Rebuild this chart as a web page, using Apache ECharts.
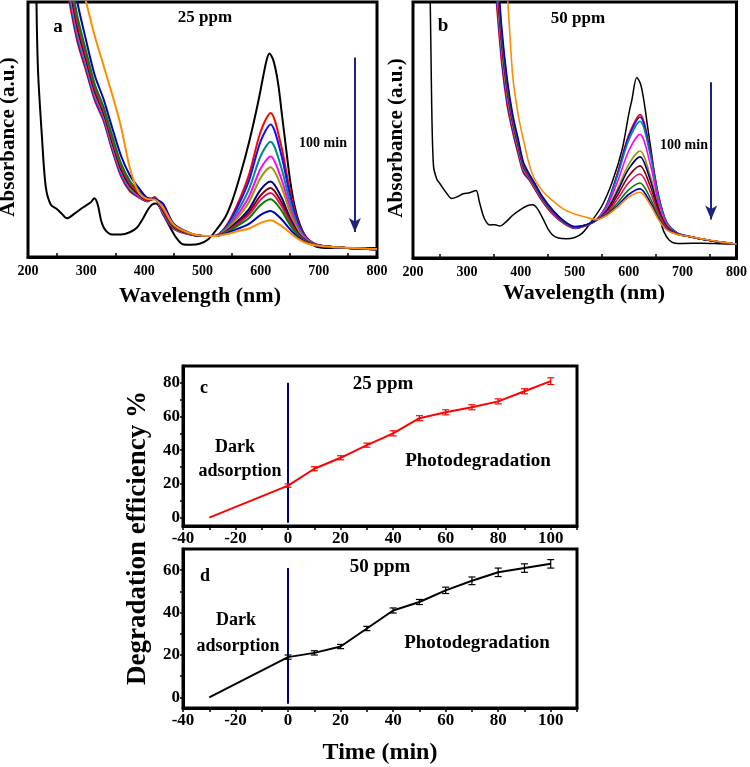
<!DOCTYPE html>
<html><head><meta charset="utf-8">
<script src="https://cdn.jsdelivr.net/npm/echarts/dist/echarts.min.js"></script>
<style>html,body{margin:0;padding:0;background:#fff}#c{width:750px;height:767px}</style>
</head><body><div id="c"></div>
<script>
// ---------- Panel a (25 ppm) spectra ----------
const wlA = [270, 285, 300, 315, 330, 345, 360, 375, 390, 405, 418, 432, 450, 475, 500, 520, 540, 560, 580, 600, 617, 635, 650, 665, 680, 700, 750, 800];
const a_red     = [1.016, .844, .729, .613, .534, .417, .316, .258, .234, .218, .235, .167, .111, .090, .082, .082, .119, .206, .323, .492, .565, .439, .264, .133, .074, .046, .035, .030];
const a_blue    = [1.030, .855, .738, .620, .540, .424, .322, .263, .237, .219, .232, .170, .113, .091, .082, .082, .116, .195, .300, .454, .520, .405, .246, .126, .072, .046, .035, .030];
const a_teal    = [1.044, .866, .746, .627, .546, .430, .327, .267, .239, .220, .231, .173, .114, .091, .082, .082, .111, .178, .266, .396, .452, .354, .219, .116, .069, .045, .035, .030];
const a_magenta = [1.058, .877, .755, .634, .552, .436, .333, .272, .242, .221, .230, .176, .116, .092, .082, .082, .107, .164, .237, .347, .394, .310, .196, .107, .066, .045, .035, .030];
const a_olive   = [1.072, .888, .763, .641, .558, .442, .339, .276, .245, .222, .229, .179, .117, .092, .082, .082, .104, .153, .216, .311, .352, .279, .179, .101, .064, .045, .035, .030];
const a_navy    = [1.086, .899, .772, .648, .564, .449, .344, .280, .247, .223, .228, .182, .119, .093, .082, .082, .100, .139, .188, .264, .296, .237, .156, .092, .061, .045, .035, .030];
const a_wine    = [1.100, .910, .780, .655, .570, .455, .350, .285, .250, .224, .228, .185, .120, .093, .082, .082, .098, .133, .176, .242, .271, .218, .146, .089, .060, .045, .035, .030];
const a_crimson = [1.114, .921, .789, .662, .576, .461, .356, .290, .253, .225, .228, .188, .122, .094, .082, .082, .097, .128, .166, .225, .251, .203, .138, .086, .059, .045, .035, .030];
const a_green   = [1.142, .943, .806, .676, .588, .474, .367, .299, .258, .227, .228, .194, .125, .095, .082, .082, .095, .122, .153, .204, .226, .185, .128, .082, .057, .044, .035, .030];
const a_blue2   = [1.210, .998, .848, .711, .618, .505, .396, .321, .272, .232, .228, .209, .132, .097, .082, .082, .092, .110, .130, .165, .180, .150, .110, .075, .055, .044, .035, .030];
const a_orange  = [1.350, 1.150, 1.000, .865, .750, .635, .510, .350, .255, .228, .225, .195, .128, .096, .083, .082, .089, .101, .112, .134, .144, .123, .096, .070, .053, .044, .036, .031];
const a_blackWl  = [214, 217, 224, 230.5, 239, 250, 258, 267, 280, 295, 308, 314, 320, 326, 333, 345, 360, 375, 387, 397, 406, 413, 420, 428, 437, 446, 455, 466, 480, 495, 510, 525, 540, 552, 566, 581, 595, 604, 610, 615, 622, 630, 637, 644, 650, 656, 664, 673, 684, 696, 720, 760, 800];
const a_blackAbs = [1.10, .743, .470, .276, .206, .187, .170, .152, .170, .195, .215, .230, .205, .140, .105, .088, .088, .097, .115, .148, .185, .205, .210, .190, .148, .110, .075, .050, .048, .052, .070, .110, .160, .226, .330, .459, .600, .704, .770, .798, .770, .681, .550, .420, .310, .226, .150, .097, .060, .040, .035, .035, .035];

// ---------- Panel b (50 ppm) spectra ----------
const wlB = [355, 365, 375, 385, 395, 405, 415, 425, 440, 460, 480, 500, 520, 540, 560, 580, 600, 621, 640, 655, 670, 690, 710, 740, 770, 800];
const b_red     = [.992, .750, .590, .490, .405, .331, .306, .272, .221, .169, .134, .115, .126, .148, .212, .337, .480, .560, .421, .248, .142, .098, .085, .072, .062, .054];
const b_blue    = [1.019, .770, .605, .500, .414, .337, .310, .275, .224, .171, .136, .117, .127, .148, .211, .333, .473, .551, .414, .245, .141, .098, .085, .072, .062, .054];
const b_teal    = [1.046, .790, .620, .510, .423, .343, .313, .278, .227, .173, .137, .118, .127, .148, .208, .325, .459, .534, .402, .239, .139, .097, .085, .072, .062, .054];
const b_magenta = [1.060, .800, .628, .515, .427, .346, .315, .280, .228, .175, .138, .119, .127, .148, .201, .302, .418, .483, .367, .223, .134, .096, .085, .072, .062, .054];
const b_olive   = [1.073, .810, .635, .520, .431, .349, .317, .282, .229, .176, .139, .119, .128, .148, .191, .273, .366, .418, .321, .202, .127, .095, .085, .072, .062, .054];
const b_navy    = [1.100, .830, .650, .530, .440, .355, .320, .285, .232, .178, .140, .120, .128, .148, .188, .263, .348, .395, .305, .195, .125, .095, .085, .072, .062, .054];
const b_wine    = [1.114, .840, .658, .535, .444, .358, .322, .287, .233, .179, .141, .120, .128, .148, .182, .247, .320, .360, .281, .184, .122, .094, .085, .072, .062, .054];
const b_crimson = [1.127, .850, .665, .540, .449, .361, .324, .288, .235, .180, .142, .121, .128, .148, .177, .232, .294, .328, .258, .174, .118, .094, .085, .072, .062, .054];
const b_green   = [1.154, .870, .680, .550, .457, .367, .327, .292, .237, .183, .143, .122, .129, .148, .172, .217, .266, .293, .234, .162, .115, .093, .085, .072, .062, .054];
const b_blue2   = [1.181, .890, .695, .560, .466, .373, .331, .295, .240, .185, .145, .123, .129, .148, .169, .206, .248, .270, .218, .155, .113, .093, .085, .072, .062, .054];
const b_orange  = [1.400, 1.200, 1.020, .710, .560, .460, .370, .310, .262, .222, .190, .172, .160, .150, .167, .200, .238, .257, .208, .151, .111, .092, .085, .073, .063, .055];
const b_blackWl  = [230, 232, 234.5, 238, 244, 250, 260, 272, 283, 293, 305, 317, 323, 330, 336, 342, 352, 361, 372, 385, 400, 413, 422, 430, 441, 450, 459, 470, 484, 500, 514, 530, 551, 570, 588, 600, 606, 615, 622, 628, 636, 643, 650, 655, 660, 665, 675, 686, 700, 735, 770, 797];
const b_blackAbs = [1.10, 1.00, .620, .360, .309, .290, .260, .232, .240, .251, .255, .264, .220, .167, .140, .129, .130, .125, .140, .167, .190, .205, .208, .195, .154, .115, .090, .078, .075, .080, .097, .140, .206, .300, .425, .560, .618, .705, .680, .618, .500, .400, .280, .206, .140, .104, .070, .058, .057, .058, .056, .054];

const curveNames  = ['red', 'blue', 'teal', 'magenta', 'olive', 'navy', 'wine', 'crimson', 'green', 'blue2', 'orange'];
const curveColors = ['#ff0000', '#1010ff', '#008b8b', '#ff00ff', '#9a9a00', '#000080', '#800000', '#e0115f', '#008000', '#0000c0', '#ff8c00'];
const curvesA = [a_red, a_blue, a_teal, a_magenta, a_olive, a_navy, a_wine, a_crimson, a_green, a_blue2, a_orange];
const curvesB = [b_red, b_blue, b_teal, b_magenta, b_olive, b_navy, b_wine, b_crimson, b_green, b_blue2, b_orange];

// ---------- Panels c, d : degradation efficiency ----------
const timeMin = [-30, 0, 10, 20, 30, 40, 50, 60, 70, 80, 90, 100];
const eff25 = [0, 19, 29, 35.5, 43, 50, 59, 62.5, 65.5, 69, 75, 81];
const err25 = [0, 1, 1.2, 1.2, 1.2, 1.5, 1.5, 1.5, 1.5, 1.5, 1.5, 2];
const eff50 = [0, 19, 21, 24, 32.5, 41, 45, 50.5, 55, 59, 61, 63];
const err50 = [0, 1, 1, 1, 1, 1.2, 1.2, 1.5, 1.8, 2, 2, 2];

const xTicksAB = [200, 300, 400, 500, 600, 700, 800];
const yLabelsC = [0, 20, 40, 60, 80];
const yLabelsD = [0, 20, 40, 60];

// ---------- build chart ----------
const FONT = 'Liberation Serif';
const chart = echarts.init(document.getElementById('c'), null, {renderer: 'canvas'});

const pairs = (xs, ys) => xs.map((x, i) => [x, ys[i]]);

function specXAxis(gi) {
  return {
    type: 'value', gridIndex: gi, min: 200, max: 800, interval: 100,
    axisLine: {show: true, onZero: false, lineStyle: {color: '#000', width: 3}},
    axisTick: {show: false, inside: true},
    minorTick: {show: true, splitNumber: 2, length: 4, lineStyle: {color: '#000', width: 1.5}},
    splitLine: {show: false},
    axisLabel: {color: '#000', fontFamily: FONT, fontWeight: 'bold', fontSize: 14, margin: 7,
      customValues: xTicksAB}
  };
}
function specYAxis(gi) {
  return {type: 'value', gridIndex: gi, min: 0, max: 1,
    axisLine: {show: false}, axisTick: {show: false}, axisLabel: {show: false}, splitLine: {show: false}};
}
function timeXAxis(gi) {
  return {
    type: 'value', gridIndex: gi, min: -40, max: 110, interval: 20,
    axisLine: {show: true, onZero: false, lineStyle: {color: '#000', width: 3}},
    axisTick: {show: true, length: 4, lineStyle: {color: '#000', width: 1.5}},
    minorTick: {show: true, splitNumber: 2, length: 4, lineStyle: {color: '#000', width: 1.5}},
    splitLine: {show: false},
    axisLabel: {color: '#000', fontFamily: FONT, fontWeight: 'bold', fontSize: 17, margin: 4, showMaxLabel: false}
  };
}
function effYAxis(gi, min, max, labels, ticks) {
  return {
    type: 'value', gridIndex: gi, min: min, max: max,
    axisLine: {show: true, onZero: false, lineStyle: {color: '#000', width: 3}},
    axisTick: {show: true, length: 3, customValues: ticks, lineStyle: {color: '#000', width: 1.5}},
    splitLine: {show: false},
    axisLabel: {color: '#000', fontFamily: FONT, fontWeight: 'bold', fontSize: 17, margin: 3, customValues: labels}
  };
}

const series = [];
// panel a
series.push({type: 'line', xAxisIndex: 0, yAxisIndex: 0, data: pairs(a_blackWl, a_blackAbs), showSymbol: false,
  smooth: 0.3, lineStyle: {color: '#000', width: 2}, itemStyle: {color: '#000'}, z: 3,
  markLine: {silent: true, symbol: ['none', 'arrow'], symbolSize: [9, 14], label: {show: false},
    lineStyle: {color: '#1a237e', width: 2, type: 'solid'},
    data: [[{coord: [762, 0.782]}, {coord: [762, 0.098]}]]}});
curvesA.forEach((c, i) => series.push({type: 'line', name: 'a-' + curveNames[i], xAxisIndex: 0, yAxisIndex: 0,
  data: pairs(wlA, c), showSymbol: false, smooth: 0.3, lineStyle: {color: curveColors[i], width: 2}, z: 4 + i}));
// panel b
series.push({type: 'line', xAxisIndex: 1, yAxisIndex: 1, data: pairs(b_blackWl, b_blackAbs), showSymbol: false,
  smooth: 0.3, lineStyle: {color: '#000', width: 1.5}, z: 3,
  markLine: {silent: true, symbol: ['none', 'arrow'], symbolSize: [9, 14], label: {show: false},
    lineStyle: {color: '#1a237e', width: 2, type: 'solid'},
    data: [[{coord: [753, 0.687]}, {coord: [753, 0.150]}]]}});
curvesB.forEach((c, i) => series.push({type: 'line', name: 'b-' + curveNames[i], xAxisIndex: 1, yAxisIndex: 1,
  data: pairs(wlB, c), showSymbol: false, smooth: 0.3, lineStyle: {color: curveColors[i], width: 1.6}, z: 4 + i}));

function errSeries(xi, eff, err, color) {
  return {type: 'custom', xAxisIndex: xi, yAxisIndex: xi, z: 20,
    data: timeMin.map((t, i) => [t, eff[i], err[i]]).filter(d => d[2] > 0),
    renderItem: function (params, api) {
      const x = api.value(0), y = api.value(1), e = api.value(2);
      const top = api.coord([x, y + e]), bot = api.coord([x, y - e]);
      const w = 3.5, st = {stroke: color, lineWidth: 1.2};
      return {type: 'group', children: [
        {type: 'line', shape: {x1: top[0], y1: top[1], x2: bot[0], y2: bot[1]}, style: st},
        {type: 'line', shape: {x1: top[0] - w, y1: top[1], x2: top[0] + w, y2: top[1]}, style: st},
        {type: 'line', shape: {x1: bot[0] - w, y1: bot[1], x2: bot[0] + w, y2: bot[1]}, style: st}]};
    }};
}
// panel c
series.push({type: 'line', xAxisIndex: 2, yAxisIndex: 2, data: pairs(timeMin, eff25), showSymbol: false,
  lineStyle: {color: '#ff0000', width: 2}, z: 10,
  markLine: {silent: true, symbol: 'none', label: {show: false}, lineStyle: {color: '#000080', width: 2, type: 'solid'},
    data: [[{coord: [0, 80]}, {coord: [0, -3]}]]}});
series.push(errSeries(2, eff25, err25, '#ff0000'));
// panel d
series.push({type: 'line', xAxisIndex: 3, yAxisIndex: 3, data: pairs(timeMin, eff50), showSymbol: false,
  lineStyle: {color: '#000', width: 2}, z: 10,
  markLine: {silent: true, symbol: 'none', label: {show: false}, lineStyle: {color: '#000080', width: 2, type: 'solid'},
    data: [[{coord: [0, 61]}, {coord: [0, -3]}]]}});
series.push(errSeries(3, eff50, err50, '#000'));

function txt(x, y, s, size, extra) {
  return Object.assign({type: 'text', x: x, y: y, z: 50, silent: true,
    style: {text: s, fill: '#000', font: 'bold ' + size + 'px "' + FONT + '"', textAlign: 'center', textVerticalAlign: 'middle'}}, extra || {});
}

const option = {
  animation: false,
  backgroundColor: '#fff',
  grid: [
    {left: 28, top: 2, width: 349, height: 255, show: true, borderColor: '#000', borderWidth: 3, backgroundColor: 'transparent'},
    {left: 413, top: 2, width: 326, height: 256, show: true, borderColor: '#000', borderWidth: 3, backgroundColor: 'transparent'},
    {left: 183, top: 366, width: 394, height: 160, show: true, borderColor: '#000', borderWidth: 3, backgroundColor: 'transparent'},
    {left: 183, top: 549, width: 394, height: 159, show: true, borderColor: '#000', borderWidth: 3, backgroundColor: 'transparent'}
  ],
  xAxis: [specXAxis(0), specXAxis(1), timeXAxis(2), timeXAxis(3)],
  yAxis: [specYAxis(0), specYAxis(1),
    effYAxis(2, -5, 90, yLabelsC, [0, 10, 20, 30, 40, 50, 60, 70, 80]),
    effYAxis(3, -5, 70, yLabelsD, [0, 10, 20, 30, 40, 50, 60])],
  series: series,
  graphic: [
    txt(58, 27, 'a', 19), txt(205, 18, '25 ppm', 17), txt(323, 143, '100 min', 14),
    txt(443, 26, 'b', 19), txt(578, 19, '50 ppm', 17), txt(684, 145, '100 min', 14),
    txt(9, 137, 'Absorbance (a.u.)', 21, {rotation: Math.PI / 2}),
    txt(397, 138, 'Absorbance (a.u.)', 21, {rotation: Math.PI / 2}),
    txt(200, 296, 'Wavelength (nm)', 22), txt(584, 293, 'Wavelength (nm)', 22),
    txt(204, 388, 'c', 18), txt(383, 384, '25 ppm', 19),
    txt(235, 447, 'Dark', 18), txt(240, 471, 'adsorption', 18), txt(478, 461, 'Photodegradation', 19),
    txt(205, 576, 'd', 18), txt(380, 567, '50 ppm', 19),
    txt(236, 620, 'Dark', 18), txt(238, 646, 'adsorption', 18), txt(477, 643, 'Photodegradation', 19),
    txt(138, 538, 'Degradation efficiency %', 27, {rotation: Math.PI / 2}),
    txt(380, 753, 'Time (min)', 24)
  ]
};
chart.setOption(option);
</script></body></html>
